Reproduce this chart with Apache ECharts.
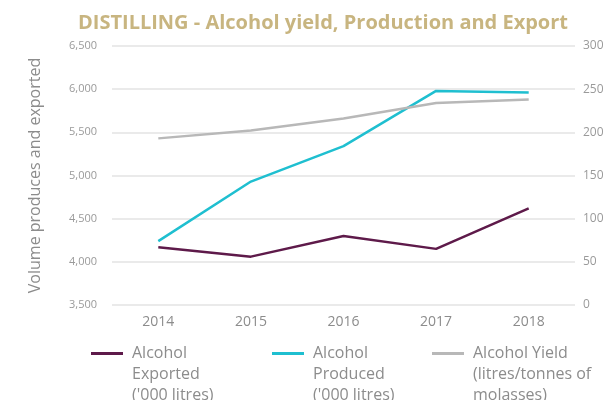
<!DOCTYPE html>
<html>
<head>
<meta charset="utf-8">
<script src="https://cdn.jsdelivr.net/npm/echarts@6/dist/echarts.min.js"></script>
<style>html,body{margin:0;padding:0;background:#fff}#c{width:613px;height:400px}</style>
</head>
<body>
<div id="c"></div>
<script>
const years = ['2014', '2015', '2016', '2017', '2018'];
const exported = [4170, 4060, 4300, 4150, 4620];
const produced = [4240, 4930, 5340, 5980, 5960];
const yieldVals = [193, 202, 216, 234, 238];
const leftTicks = { min: 3500, max: 6500, interval: 500 };
const rightTicks = { min: 0, max: 300, interval: 50 };
const names = ['Alcohol\nExported\n(\'000 litres)', 'Alcohol\nProduced\n(\'000 litres)', 'Alcohol Yield\n(litres/tonnes of\nmolasses)'];
const colors = ['#5e1a4a', '#1fbfd0', '#b8b8b8'];

const font = '"Open Sans", Lato, sans-serif';
const chart = echarts.init(document.getElementById('c'));

function legend(i, left) {
  return {
    data: [names[i]], left: left, top: 301, icon: 'rect', itemWidth: 32, itemHeight: 3, itemGap: 0,
    padding: 0,
    formatter: n => '\n\n' + n,
    textStyle: { color: '#8c8c8c', fontSize: 16, fontFamily: font, lineHeight: 21, padding: [0, 0, 0, 4] },
    selectedMode: false
  };
}

chart.setOption({
  animation: false,
  title: {
    text: 'DISTILLING - Alcohol yield, Production and Export',
    left: 318, top: 8, textAlign: 'center',
    textStyle: { color: '#c8b580', fontSize: 20, fontWeight: 'bold', fontFamily: font }
  },
  legend: [legend(0, 91), legend(1, 272), legend(2, 432)],
  grid: { left: 112, right: 38, top: 46, bottom: 95 },
  xAxis: {
    type: 'category', data: years,
    axisLine: { show: false }, axisTick: { show: false },
    axisLabel: { color: '#8c8c8c', fontSize: 14, fontFamily: font, margin: 10 }
  },
  yAxis: [{
    type: 'value', min: leftTicks.min, max: leftTicks.max, interval: leftTicks.interval,
    name: 'Volume produces and exported', nameLocation: 'middle', nameGap: 69, nameRotate: 90,
    nameTextStyle: { color: '#8c8c8c', fontSize: 16, fontFamily: font },
    axisLine: { show: false }, axisTick: { show: false },
    axisLabel: { color: '#9a9a9a', fontSize: 11, fontFamily: font, margin: 15,
      formatter: v => v.toLocaleString('en-US') },
    splitLine: { lineStyle: { color: '#e3e3e3', width: 1.5 } }
  }, {
    type: 'value', min: rightTicks.min, max: rightTicks.max, interval: rightTicks.interval,
    axisLine: { show: false }, axisTick: { show: false },
    axisLabel: { color: '#9a9a9a', fontSize: 12, fontFamily: font, margin: 8 },
    splitLine: { show: false }
  }],
  series: [
    { name: names[0], type: 'line', data: exported, yAxisIndex: 0, symbol: 'none',
      lineStyle: { color: colors[0], width: 2.5 }, itemStyle: { color: colors[0] } },
    { name: names[1], type: 'line', data: produced, yAxisIndex: 0, symbol: 'none',
      lineStyle: { color: colors[1], width: 2.5 }, itemStyle: { color: colors[1] } },
    { name: names[2], type: 'line', data: yieldVals, yAxisIndex: 1, symbol: 'none',
      lineStyle: { color: colors[2], width: 2.5 }, itemStyle: { color: colors[2] } }
  ]
});
</script>
</body>
</html>
